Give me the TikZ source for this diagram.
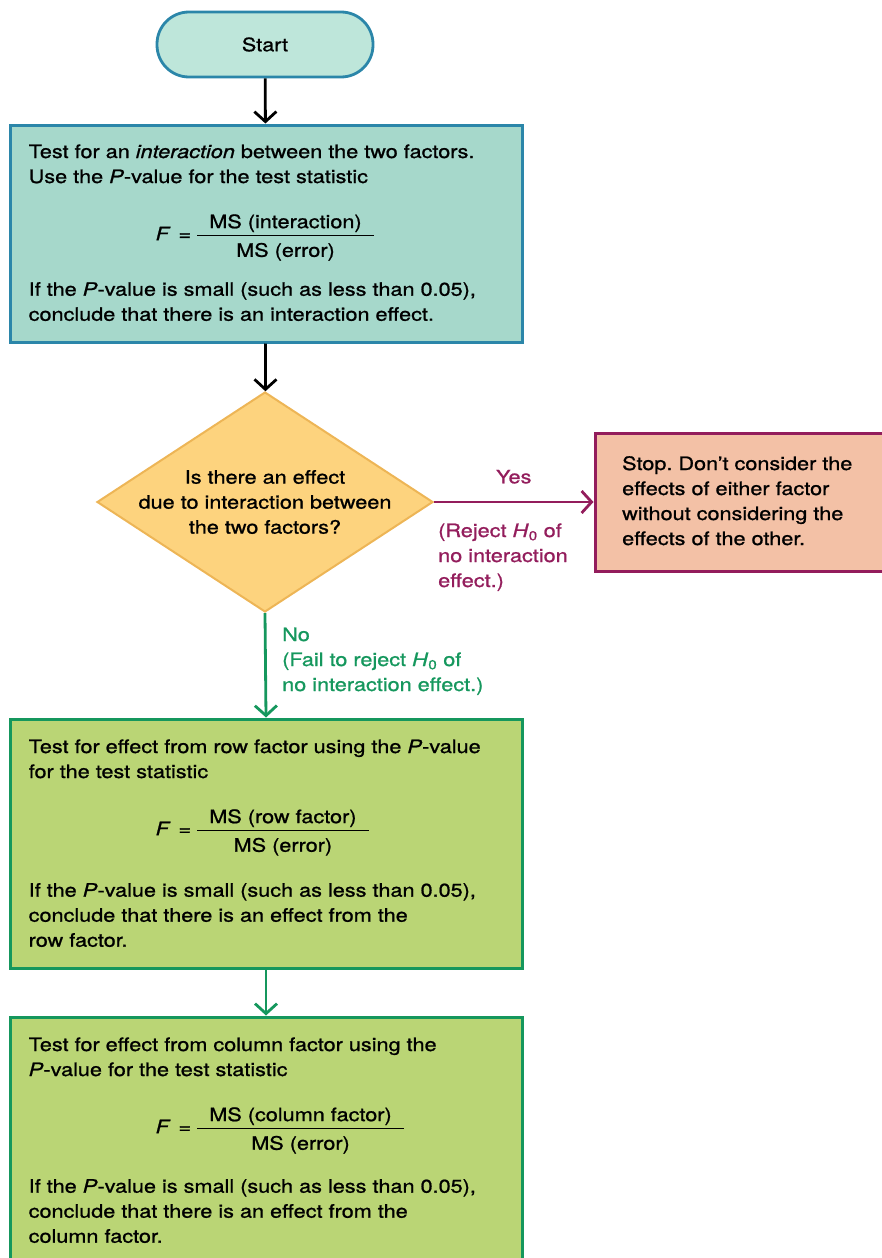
\documentclass[tikz,border=0pt]{standalone}
\usepackage{amsmath}
\usepackage{fontspec}
\setmainfont{TeX Gyre Heros}[FakeStretch=1.17,FakeBold=1]
\usetikzlibrary{positioning,shapes.geometric,arrows.meta}
\frenchspacing

\definecolor{startfill}{HTML}{BEE6DA}
\definecolor{tealline}{HTML}{2B86A9}
\definecolor{testfill}{HTML}{A6D8CB}
\definecolor{askfill}{HTML}{FDD37E}
\definecolor{askline}{HTML}{EDB556}
\definecolor{stopfill}{HTML}{F3C1A6}
\definecolor{yescol}{HTML}{931D5C}
\definecolor{nocol}{HTML}{15975D}
\definecolor{factorfill}{HTML}{BAD575}

% lines of text hanging from their first baseline
\newcommand{\boxlines}[2]{\parbox[t]{#1}{\raggedright #2}}
% F statistic as a ratio of mean squares
\newcommand{\Fratio}[1]{\hspace*{127pt}\textit{F}\hspace{8pt}=\hspace{5pt}%
    $\genfrac{}{}{1.1pt}{0}{\text{\hspace{12pt}#1\hspace{12pt}}}{\text{\rule{0pt}{17pt}MS (error)}}$}

\begin{document}
\begin{tikzpicture}[x=1pt,y=-1pt,
    font=\fontsize{18.5}{25}\selectfont,
    every node/.style={inner sep=0pt},
    startbox/.style={rectangle,rounded corners=32pt,draw=tealline,fill=startfill,
        line width=2.8pt,minimum width=216pt,minimum height=65pt},
    stepbox/.style={rectangle,line width=3pt,minimum width=512pt,minimum height=249pt},
    decision/.style={diamond,draw=askline,fill=askfill,line width=2pt,
        minimum width=336pt,minimum height=220pt},
    stopbox/.style={rectangle,draw=yescol,fill=stopfill,line width=3pt,
        minimum width=292pt,minimum height=138pt},
    para/.style={anchor=base west},
    flow/.style={line width=2.8pt,-{Straight Barb[length=10pt,width=22pt]}}]

    \useasboundingbox (0,0) rectangle (882,1258);

    % Start and interaction test
    \node[startbox] (start) at (265,44.5) {Start};
    \node[stepbox,draw=tealline,fill=testfill,minimum height=217pt] (interact) at (266,233.5) {};
    \node[para] (interacttxt) at ([xshift=20pt,yshift=-34.5pt]interact.north west) {\boxlines{472pt}{%
        Test for an \textit{interaction} between the two factors.\\
        Use the \textit{P}-value for the test statistic\par\vspace{30pt}
        \Fratio{MS (interaction)}\par\vspace{20.5pt}
        If the \textit{P}-value is small (such as less than 0.05),\\
        conclude that there is an interaction effect.}};

    % Decision and stop
    \node[decision] (effect) at (265,502) {};
    \node[align=center] (question) at (effect) {Is there an effect\\due to interaction between\\the two factors?};
    \node[stopbox] (stop) at (741,502) {};
    \node[para] (stoptxt) at ([xshift=28.5pt,yshift=-38.5pt]stop.north west) {\boxlines{250pt}{%
        Stop. Don’t consider the\\effects of either factor\\without considering the\\effects of the other.}};

    % Row and column factor tests
    \node[stepbox,draw=nocol,fill=factorfill] (rowtest) at (266,843.5) {};
    \node[para] (rowtxt) at ([xshift=20pt,yshift=-35.5pt]rowtest.north west) {\boxlines{472pt}{%
        Test for effect from row factor using the \textit{P}-value\\
        for the test statistic\par\vspace{30pt}
        \Fratio{MS (row factor)}\par\vspace{26.5pt}
        If the \textit{P}-value is small (such as less than 0.05),\\
        conclude that there is an effect from the\\
        row factor.}};
    \node[stepbox,draw=nocol,fill=factorfill] (coltest) at (266,1141.5) {};
    \node[para] (coltxt) at ([xshift=20pt,yshift=-35.5pt]coltest.north west) {\boxlines{472pt}{%
        Test for effect from column factor using the\\
        \textit{P}-value for the test statistic\par\vspace{30pt}
        \Fratio{MS (column factor)}\par\vspace{24.5pt}
        If the \textit{P}-value is small (such as less than 0.05),\\
        conclude that there is an effect from the\\
        column factor.}};

    % Connectors
    \draw[flow] (start) -- (interact);
    \draw[flow] (interact) -- (effect);
    \draw[flow,yescol] (effect.east) -- node[above=17pt,text=yescol] (yes) {Yes} (stop.west);
    \node[para,text=yescol] (reject) at ([xshift=4pt,yshift=-35pt]effect.east)
        {\boxlines{150pt}{(Reject \textit{H}\textsubscript{0} of\\no interaction\\effect.)}};
    \draw[flow,nocol] (effect.south) -- (rowtest.north);
    \node[para,text=nocol] (fail) at ([xshift=17pt,yshift=-28pt]effect.south)
        {\boxlines{260pt}{No\\(Fail to reject \textit{H}\textsubscript{0} of\\no interaction effect.)}};
    \draw[flow,nocol] (rowtest) -- (coltest);
\end{tikzpicture}
\end{document}
